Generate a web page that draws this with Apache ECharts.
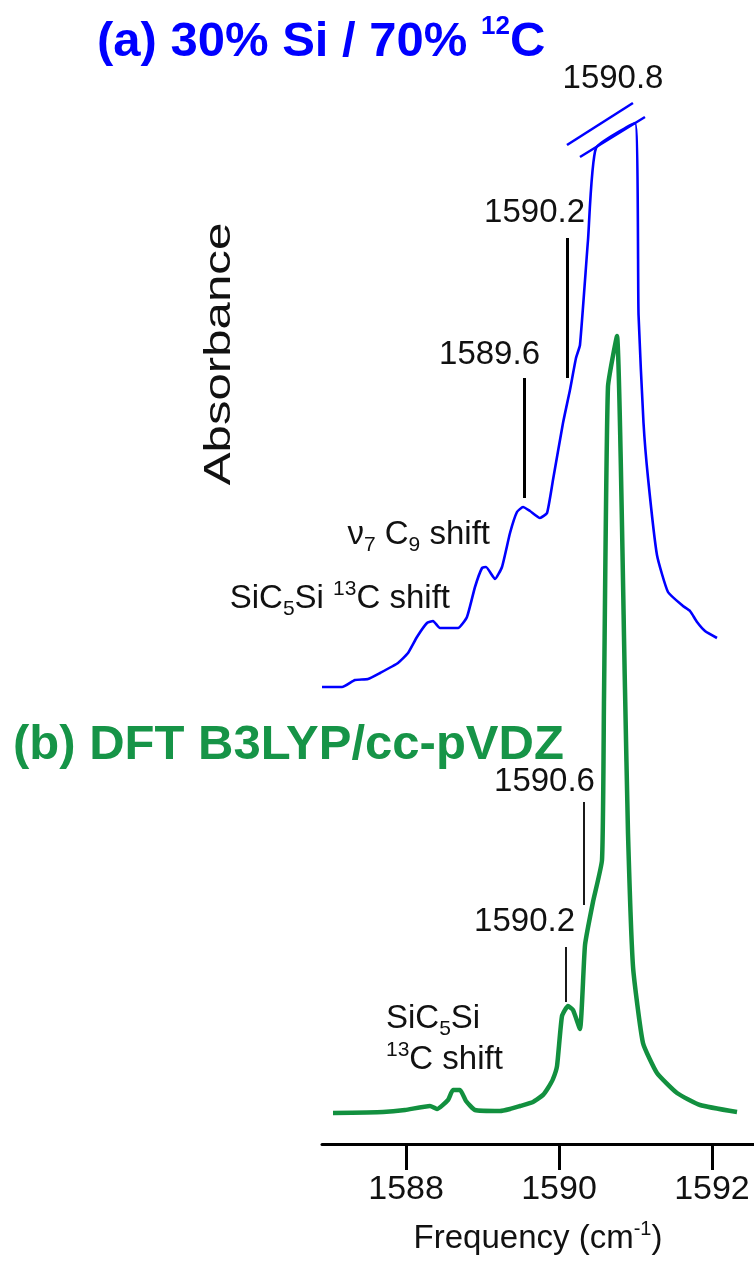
<!DOCTYPE html>
<html><head><meta charset="utf-8">
<script src="https://cdn.jsdelivr.net/npm/echarts@6/dist/echarts.min.js"></script>
<style>html,body{margin:0;padding:0;background:#fff}#c{width:754px;height:1261px}</style>
</head><body><div id="c"></div>
<script>
// ---- data ----
const freqTicks = [1588, 1590, 1592];
// (a) experimental spectrum, 30% Si / 70% 12C (arbitrary absorbance units, offset)
const expFreq = [1586.900,1587.162,1587.332,1587.502,1587.659,1587.894,1588.025,1588.142,1588.273,1588.352,1588.443,1588.679,1588.796,1588.901,1588.993,1589.045,1589.163,1589.254,1589.359,1589.450,1589.529,1589.620,1589.751,1589.843,1589.921,1590.052,1590.143,1590.222,1590.274,1590.379,1590.484,1590.994,1591.040,1591.105,1591.164,1591.281,1591.425,1591.621,1591.713,1591.805,1591.909,1592.066];
const expAbs  = [45.7,45.7,46.4,46.5,47.1,48.1,49.1,50.7,52.1,52.3,51.6,51.6,52.7,55.7,57.6,57.7,56.5,57.7,61.1,63.2,63.7,63.3,62.6,63.1,66.4,72.1,75.4,78.6,79.9,90.4,99.6,102.1,82.9,72.1,66.6,58.9,55.2,53.8,53.3,52.2,51.3,50.6];
// (b) DFT B3LYP/cc-pVDZ simulated spectrum
const dftFreq = [1587.044,1587.698,1587.986,1588.312,1588.404,1588.548,1588.613,1588.705,1588.783,1588.901,1589.228,1589.359,1589.490,1589.660,1589.790,1589.856,1589.921,1589.974,1590.039,1590.117,1590.183,1590.274,1590.340,1590.444,1590.562,1590.588,1590.640,1590.758,1590.863,1590.902,1590.968,1591.098,1591.281,1591.543,1591.844,1592.328];
const dftAbs  = [3.1,3.2,3.4,3.8,3.5,4.4,5.4,5.4,4.3,3.4,3.3,3.5,3.8,4.2,4.9,5.6,6.5,7.8,12.8,13.8,13.4,11.5,19.9,24.2,28.4,44.4,75.7,80.8,45.4,31.1,17.7,10.1,7.1,5.1,3.9,3.2];
// axis break on the truncated experimental peak
const breakFreqStart = [1590.104, 1590.274];
const breakAbsStart  = [99.9, 98.7];
const breakFreqEnd   = [1590.967, 1591.124];
const breakAbsEnd    = [104.1, 102.7];
// peak annotations
const annLabels = [
  '{t|1590.8}',
  '{t|1590.2}',
  '{t|1589.6}',
  '{t|ν}{sub|7}{t| C}{sub|9}{t| shift}',
  '{t|SiC}{sub|5}{t|Si }{sup|13}{t|C shift}',
  '{t|1590.6}',
  '{t|1590.2}',
  '{t|SiC}{sub|5}{t|Si}\n{sup|13}{t|C shift}'
];
const annFreq = [1590.706, 1590.340, 1589.751, 1589.097, 1588.574, 1590.470, 1590.209, 1587.737];
const annAbs  = [106.5, 93.1, 78.9, 60.9, 54.5, 36.2, 22.2, 10.45];
const annAlign = ['center','right','right','right','right','right','right','left'];
// annotation leader lines (vertical)
const leadFreq = [1590.104, 1589.542, 1590.327, 1590.091];
const leadAbsTop = [90.6, 76.6, 34.2, 19.7];
const leadAbsBot = [76.6, 64.6, 23.9, 14.2];
const leadGroup = ['exp','exp','dft','dft'];

const FONT = "'Liberation Sans', Arial, Helvetica, sans-serif";
const BLUE = '#0000ff', GREEN = '#12903f', TXT = '#111111';

const zip = (a, b) => a.map((v, i) => [v, b[i]]);

const richAnn = {
  t:   {fontSize: 33, lineHeight: 41, color: TXT, fontFamily: FONT},
  sub: {fontSize: 21, lineHeight: 21, color: TXT, fontFamily: FONT, verticalAlign: 'bottom'},
  sup: {fontSize: 21, lineHeight: 33, color: TXT, fontFamily: FONT, verticalAlign: 'top'}
};

const chart = echarts.init(document.getElementById('c'), null, {renderer: 'canvas'});
chart.setOption({
  animation: false,
  backgroundColor: '#fff',
  title: [
    {
      text: '{b|(a) 30% Si / 70% }{sup|12}{b|C}',
      left: 92, top: 9,
      textStyle: {rich: {
        b: {fontSize: 49, fontWeight: 'bold', color: BLUE, fontFamily: FONT, lineHeight: 56},
        sup: {fontSize: 26, fontWeight: 'bold', color: BLUE, fontFamily: FONT, lineHeight: 36, verticalAlign: 'top'}
      }}
    },
    {
      text: '{b|(b) DFT B3LYP/cc-pVDZ}',
      left: 8, top: 712,
      textStyle: {rich: {
        b: {fontSize: 49, fontWeight: 'bold', color: '#169447', fontFamily: FONT, lineHeight: 56}
      }}
    }
  ],
  graphic: [{
    type: 'text', x: 220, y: 354, rotation: Math.PI / 2, scaleX: 1.33,
    style: {text: 'Absorbance', fontSize: 37, fontFamily: FONT, fill: TXT, align: 'center', verticalAlign: 'middle'}
  }],
  grid: {left: 322, right: 0, top: 4, bottom: 117},
  xAxis: {
    type: 'value', min: 1586.9, max: 1592.55,
    axisLine: {show: true, lineStyle: {color: '#000', width: 3}},
    axisTick: {show: true, length: 26, lineStyle: {color: '#000', width: 3}, customValues: freqTicks},
    axisLabel: {customValues: freqTicks, formatter: v => String(Math.round(v)), fontSize: 34, color: TXT, fontFamily: FONT, margin: 29},
    splitLine: {show: false},
    name: '{t|Frequency (cm}{sup|-1}{t|)}',
    nameLocation: 'middle', nameGap: 75,
    nameTextStyle: {rich: {
      t: {fontSize: 33, lineHeight: 39, color: TXT, fontFamily: FONT},
      sup: {fontSize: 20, lineHeight: 28, color: TXT, fontFamily: FONT, verticalAlign: 'top'}
    }}
  },
  yAxis: {type: 'value', min: 0, max: 114, show: false},
  series: [
    {
      name: 'exp', type: 'line', data: zip(expFreq, expAbs), symbol: 'none', smooth: 0.15,
      clip: false, lineStyle: {color: BLUE, width: 2.6}, z: 3,
      markLine: {
        silent: true, symbol: ['none', 'none'], label: {show: false},
        lineStyle: {color: BLUE, width: 2.6, type: 'solid'},
        data: breakFreqStart.map((f, i) => [{coord: [f, breakAbsStart[i]]}, {coord: [breakFreqEnd[i], breakAbsEnd[i]]}])
      }
    },
    {
      name: 'dft', type: 'line', data: zip(dftFreq, dftAbs), symbol: 'none', smooth: 0.15,
      clip: false, lineStyle: {color: GREEN, width: 4.5}, z: 2
    },
    {
      name: 'annotations', type: 'scatter', symbolSize: 0, clip: false, silent: true, z: 5,
      itemStyle: {opacity: 1},
      data: annFreq.map((f, i) => ({
        value: [f, annAbs[i]],
        label: {show: true, position: 'inside', formatter: annLabels[i], align: annAlign[i], verticalAlign: 'middle', rich: richAnn}
      })),
      markLine: {
        silent: true, symbol: ['none', 'none'], label: {show: false},
        data: leadFreq.map((f, i) => [
          {coord: [f, leadAbsTop[i]], lineStyle: {color: '#000', width: leadGroup[i] === 'exp' ? 3 : 1.8, type: 'solid', opacity: 1}},
          {coord: [f, leadAbsBot[i]]}
        ])
      }
    }
  ]
});
</script></body></html>
